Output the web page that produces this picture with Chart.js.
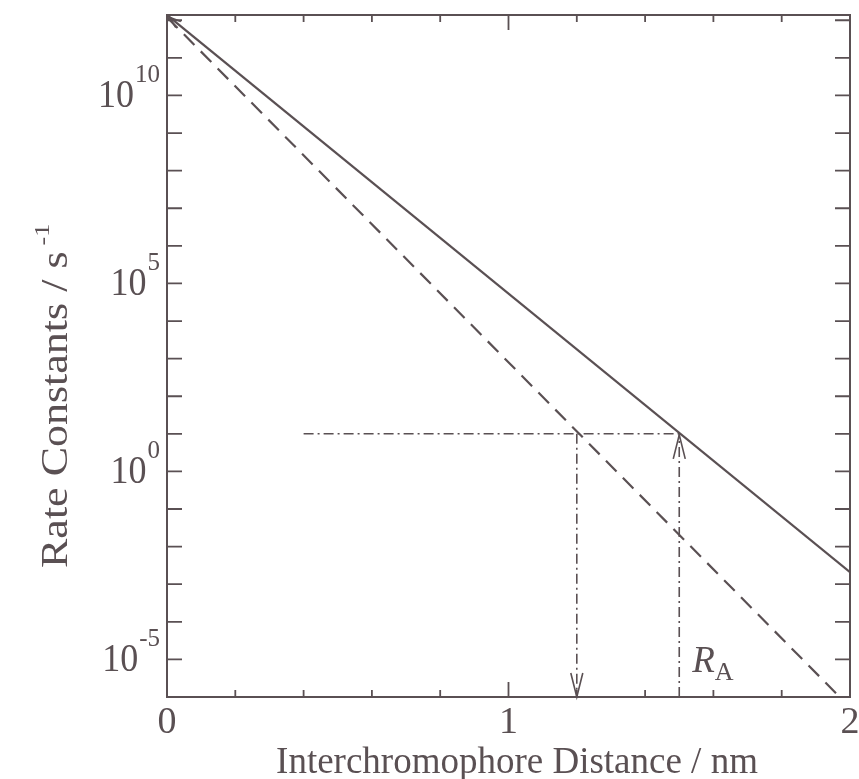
<!DOCTYPE html>
<html><head><meta charset="utf-8">
<script src="https://cdn.jsdelivr.net/npm/chart.js@4.4.0/dist/chart.umd.min.js"></script>
<style>html,body{margin:0;padding:0;background:#fff}</style>
</head><body>
<canvas id="c" width="859" height="779"></canvas>
<script>
// ---- data ----
const solidX = [0, 2];
const solidY = [1.38e12, 2.1e-3];
const dashedX = [0, 1.97];
const dashedY = [1.2e12, 1e-6];
const guideLevel = 10;
const hGuideX = [0.4, 1.5];
const vGuideDownX = 1.2;
const vGuideUpX = 1.5;
const xMin = 0, xMax = 2;
const yMin = 1e-6, yMax = 1.38e12;
const xLabelTicks = [0, 1, 2];
const xTickLabels = ['0', '1', '2'];
const xMinorTicks = [0.2, 0.4, 0.6, 0.8, 1.2, 1.4, 1.6, 1.8];
const xMajorTicks = [1];
const yTickExps = [-5,-4,-3,-2,-1,0,1,2,3,4,5,6,7,8,9,10,11,12];
const yLabelExps = [-5, 0, 5, 10];
const xTitle = 'Interchromophore Distance / nm';
const yTitle = 'Rate Constants / s';
const yTitleSup = '-1';
const raLabel = 'R', raSub = 'A';

const INK = '#5a5053';
const FONT = '"Liberation Serif", "Times New Roman", serif';

const pts = (xs, ys) => xs.map((x, i) => ({x, y: ys[i]}));

const decor = {
  id: 'decor',
  afterDatasetsDraw(chart) {
    const {ctx, chartArea: a, scales: {x, y}} = chart;
    ctx.save();
    ctx.strokeStyle = INK; ctx.fillStyle = INK;
    // frame
    ctx.lineWidth = 2;
    ctx.strokeRect(a.left, a.top, a.right - a.left, a.bottom - a.top);
    // ticks (inward on all sides)
    ctx.lineWidth = 1.8;
    ctx.beginPath();
    yTickExps.forEach(e => {
      const py = y.getPixelForValue(Math.pow(10, e));
      ctx.moveTo(a.left, py); ctx.lineTo(a.left + 15, py);
      ctx.moveTo(a.right, py); ctx.lineTo(a.right - 15, py);
    });
    xMinorTicks.forEach(v => {
      const px = x.getPixelForValue(v);
      ctx.moveTo(px, a.bottom); ctx.lineTo(px, a.bottom - 7);
      ctx.moveTo(px, a.top); ctx.lineTo(px, a.top + 7);
    });
    xMajorTicks.forEach(v => {
      const px = x.getPixelForValue(v);
      ctx.moveTo(px, a.bottom); ctx.lineTo(px, a.bottom - 15);
      ctx.moveTo(px, a.top); ctx.lineTo(px, a.top + 15);
    });
    ctx.stroke();

    // arrowheads
    const arrow = (tx, ty, fx, fy, len, half) => {
      const ang = Math.atan2(ty - fy, tx - fx);
      ctx.beginPath();
      ctx.moveTo(tx - len * Math.cos(ang) + half * Math.sin(ang), ty - len * Math.sin(ang) - half * Math.cos(ang));
      ctx.lineTo(tx, ty);
      ctx.lineTo(tx - len * Math.cos(ang) - half * Math.sin(ang), ty - len * Math.sin(ang) + half * Math.cos(ang));
      ctx.stroke();
    };
    ctx.lineWidth = 1.6;
    const gy = y.getPixelForValue(guideLevel);
    const dx = x.getPixelForValue(vGuideDownX);
    arrow(dx, a.bottom, dx, gy, 24, 6);
    const ux = x.getPixelForValue(vGuideUpX);
    arrow(ux, gy + 1, ux, a.bottom, 24, 6);
    const sx0 = x.getPixelForValue(solidX[0]), sy0 = y.getPixelForValue(solidY[0]);
    const sx1 = x.getPixelForValue(solidX[1]), sy1 = y.getPixelForValue(solidY[1]);
    arrow(sx0 + 2, sy0 + 2, sx1, sy1, 12, 4);

    // x tick labels
    ctx.font = '38px ' + FONT;
    ctx.textAlign = 'center'; ctx.textBaseline = 'alphabetic';
    xLabelTicks.forEach((v, i) => ctx.fillText(xTickLabels[i], x.getPixelForValue(v), a.bottom + 36));

    // y tick labels with superscript exponent
    yLabelExps.forEach(e => {
      const py = y.getPixelForValue(Math.pow(10, e));
      const sup = e < 0 ? '-' + Math.abs(e) : String(e);
      ctx.font = '25px ' + FONT;
      const sw = ctx.measureText(sup).width;
      ctx.textAlign = 'right';
      const right = a.left - 7;
      ctx.fillText(sup, right, py - 13);
      ctx.save();
      ctx.translate(right - sw - 1, py + 12);
      ctx.scale(0.9, 1);
      ctx.font = '40px ' + FONT;
      ctx.fillText('10', 0, 0);
      ctx.restore();
    });

    // x title
    ctx.font = '37px ' + FONT;
    ctx.textAlign = 'center';
    ctx.fillText(xTitle, 517, a.bottom + 76);

    // y title (rotated)
    ctx.save();
    ctx.translate(67, 568);
    ctx.rotate(-Math.PI / 2);
    ctx.scale(1, 0.84);
    ctx.textAlign = 'left';
    ctx.font = '44px ' + FONT;
    ctx.fillText(yTitle, 0, 0);
    const tw = ctx.measureText(yTitle).width;
    ctx.font = '26px ' + FONT;
    ctx.fillText(yTitleSup, tw + 6, -22);
    ctx.restore();

    // R_A label
    ctx.textAlign = 'left';
    ctx.font = 'italic 37px ' + FONT;
    ctx.fillText(raLabel, ux + 13, a.bottom - 25);
    const rw = ctx.measureText(raLabel).width;
    ctx.font = '26px ' + FONT;
    ctx.fillText(raSub, ux + 13 + rw, a.bottom - 17);
    ctx.restore();
  }
};

new Chart(document.getElementById('c'), {
  type: 'scatter',
  data: {
    datasets: [
      {data: pts(solidX, solidY), showLine: true, borderColor: INK, borderWidth: 2.2, pointRadius: 0},
      {data: pts(dashedX, dashedY), showLine: true, borderColor: INK, borderWidth: 2.2, borderDash: [15, 9], pointRadius: 0},
      {data: pts(hGuideX, [guideLevel, guideLevel]), showLine: true, borderColor: INK, borderWidth: 1.6, borderDash: [10, 4, 2, 4], pointRadius: 0},
      {data: pts([vGuideDownX, vGuideDownX], [guideLevel, yMin]), showLine: true, borderColor: INK, borderWidth: 1.6, borderDash: [10, 4, 2, 4], pointRadius: 0},
      {data: pts([vGuideUpX, vGuideUpX], [yMin, guideLevel]), showLine: true, borderColor: INK, borderWidth: 1.6, borderDash: [10, 4, 2, 4], pointRadius: 0}
    ]
  },
  options: {
    responsive: false, devicePixelRatio: 1, animation: false,
    layout: {padding: {left: 167, right: 9, top: 15, bottom: 82}},
    plugins: {legend: {display: false}, tooltip: {enabled: false}},
    scales: {
      x: {type: 'linear', min: xMin, max: xMax, grid: {display: false, drawTicks: false}, border: {display: false}, ticks: {display: false}, afterFit: s => { s.height = 0; }},
      y: {type: 'logarithmic', min: yMin, max: yMax, grid: {display: false, drawTicks: false}, border: {display: false}, ticks: {display: false}, afterFit: s => { s.width = 0; }}
    }
  },
  plugins: [decor]
});
</script>
</body></html>
